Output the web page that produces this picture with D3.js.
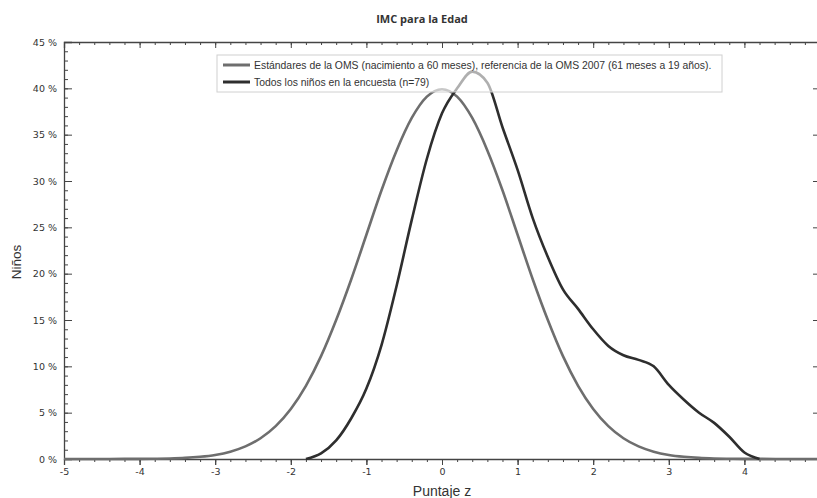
<!DOCTYPE html>
<html>
<head>
<meta charset="utf-8">
<script src="https://cdn.jsdelivr.net/npm/d3@7/dist/d3.min.js"></script>
<style>
  body { margin: 0; background: #fff; }
  text { font-family: "Liberation Sans", Arial, sans-serif; fill: #333; }
</style>
</head>
<body>
<script>
// z values and % of children
var omsZ = [-5, -4.6, -4.2, -4, -3.8, -3.6, -3.4, -3.2, -3, -2.8, -2.6, -2.4, -2.2, -2, -1.8, -1.6, -1.4, -1.2, -1, -0.8, -0.6, -0.4, -0.2,
            0, 0.2, 0.4, 0.6, 0.8, 1, 1.2, 1.4, 1.6, 1.8, 2, 2.2, 2.4, 2.6, 2.8, 3, 3.2, 3.4, 3.6, 3.8, 4, 4.2, 4.6, 5];
var omsPct = [0, 0, 0.01, 0.01, 0.03, 0.06, 0.12, 0.24, 0.44, 0.79, 1.36, 2.24, 3.55, 5.4, 7.9, 11.1, 15.0, 19.4, 24.2, 29.0, 33.3, 36.8, 39.1,
              39.9, 39.1, 36.8, 33.3, 29.0, 24.2, 19.4, 15.0, 11.1, 7.9, 5.4, 3.55, 2.24, 1.36, 0.79, 0.44, 0.24, 0.12, 0.06, 0.03, 0.01, 0.01, 0, 0];

var surveyZ = [-1.8, -1.6, -1.4, -1.2, -1, -0.8, -0.6, -0.4, -0.2, 0, 0.2, 0.4, 0.6, 0.8, 1, 1.2, 1.4, 1.6, 1.8,
               2, 2.2, 2.4, 2.6, 2.8, 3, 3.2, 3.4, 3.6, 3.8, 4, 4.2];
var surveyPct = [0, 0.6, 2.0, 4.4, 7.6, 12.3, 18.7, 25.8, 32.4, 37.3, 40.0, 41.8, 40.6, 35.8, 31.2, 26.0, 21.8, 18.3, 16.2,
                 14.0, 12.2, 11.2, 10.7, 10.0, 8.0, 6.4, 5.0, 3.9, 2.4, 0.7, 0];

var xTicks = [-5, -4, -3, -2, -1, 0, 1, 2, 3, 4, 5];
var xLabels = [-5, -4, -3, -2, -1, 0, 1, 2, 3, 4];
var yTicks = [0, 5, 10, 15, 20, 25, 30, 35, 40, 45];

var seriesNames = ["Estándares de la OMS (nacimiento a 60 meses), referencia de la OMS 2007 (61 meses a 19 años).",
                   "Todos los niños en la encuesta (n=79)"];
var seriesColors = ["#6e6e6e", "#2e2e2e"];

var width = 817, height = 498;
var margin = {top: 42, right: -3, bottom: 39, left: 64};

var svg = d3.select("body").append("svg")
    .attr("width", width)
    .attr("height", height);

var x = d3.scaleLinear().domain([-5, 5]).range([margin.left, width - margin.right]);
var y = d3.scaleLinear().domain([0, 45]).range([height - margin.bottom, margin.top]);

var minorX = d3.range(-50, 51, 2).map(function(d) { return d / 10; });
var minorY = d3.range(0, 46, 1);

// bottom axis
svg.append("g")
    .attr("transform", "translate(0," + y(0) + ")")
    .call(d3.axisBottom(x).tickValues(minorX).tickSize(3).tickFormat(""))
    .call(function(g) { g.select(".domain").remove(); });
svg.append("g")
    .attr("transform", "translate(0," + y(0) + ")")
    .call(d3.axisBottom(x).tickValues(xTicks).tickSize(6).tickFormat(""))
    .call(function(g) { g.select(".domain").attr("stroke", "#444").attr("stroke-width", 1.3); });
svg.append("g")
    .attr("class", "xaxis")
    .attr("transform", "translate(0," + y(0) + ")")
    .call(d3.axisBottom(x).tickValues(xLabels).tickSize(6).tickPadding(3).tickFormat(function(d) { return String(d); }))
    .call(function(g) { g.select(".domain").remove(); });

// top axis, ticks inside
svg.append("g")
    .attr("transform", "translate(0," + y(45) + ")")
    .call(d3.axisTop(x).tickValues(minorX).tickSize(-3).tickFormat(""))
    .call(function(g) { g.select(".domain").remove(); });
svg.append("g")
    .attr("transform", "translate(0," + y(45) + ")")
    .call(d3.axisTop(x).tickValues(xTicks).tickSize(-6).tickFormat(""))
    .call(function(g) { g.select(".domain").attr("stroke", "#444").attr("stroke-width", 1.3); });

// left axis, ticks inside
svg.append("g")
    .attr("transform", "translate(" + x(-5) + ",0)")
    .call(d3.axisLeft(y).tickValues(minorY).tickSize(-4).tickFormat(""))
    .call(function(g) { g.select(".domain").remove(); });
svg.append("g")
    .attr("class", "yaxis")
    .attr("transform", "translate(" + x(-5) + ",0)")
    .call(d3.axisLeft(y).tickValues(yTicks).tickSize(-8).tickPadding(7).tickFormat(function(d) { return d + " %"; }))
    .call(function(g) { g.select(".domain").attr("stroke", "#444").attr("stroke-width", 1.3); });

// right axis
svg.append("g")
    .attr("transform", "translate(" + x(5) + ",0)")
    .call(d3.axisRight(y).tickValues(yTicks).tickSize(-7).tickFormat(""))
    .call(function(g) { g.select(".domain").attr("stroke", "#444"); });

svg.selectAll(".tick line").attr("stroke", "#444");
svg.selectAll(".xaxis text, .yaxis text")
    .style("font-family", "'DejaVu Sans', Verdana, sans-serif")
    .style("font-size", "9.5px")
    .attr("fill", "#333");

// curves
var line = d3.line()
    .x(function(d) { return x(d[0]); })
    .y(function(d) { return y(d[1]); })
    .curve(d3.curveMonotoneX);

var omsData = omsZ.map(function(z, i) { return [z, omsPct[i]]; });
var surveyData = surveyZ.map(function(z, i) { return [z, surveyPct[i]]; });

svg.append("path")
    .datum(omsData)
    .attr("d", line)
    .attr("fill", "none")
    .attr("stroke", seriesColors[0])
    .attr("stroke-width", 2.6);

svg.append("path")
    .datum(surveyData)
    .attr("d", line)
    .attr("fill", "none")
    .attr("stroke", seriesColors[1])
    .attr("stroke-width", 2.6);

// legend, semi transparent over the curves
var legend = svg.append("g").attr("transform", "translate(217,55)");
legend.append("rect")
    .attr("width", 505)
    .attr("height", 37)
    .attr("fill", "#fff")
    .attr("fill-opacity", 0.62)
    .attr("stroke", "#d0d0d0");

seriesNames.forEach(function(name, i) {
  legend.append("line")
    .attr("x1", 6).attr("x2", 33)
    .attr("y1", 10 + i * 17).attr("y2", 10 + i * 17)
    .attr("stroke", seriesColors[i])
    .attr("stroke-width", 3);
  legend.append("text")
    .attr("x", 37)
    .attr("y", 10 + i * 17)
    .attr("dy", "0.35em")
    .style("font-size", "10.4px")
    .text(name);
});

// titles
svg.append("text")
    .attr("x", 422)
    .attr("y", 23)
    .attr("text-anchor", "middle")
    .style("font-family", "'Open Sans', sans-serif")
    .style("font-weight", "bold")
    .style("font-size", "11px")
    .attr("fill", "#111")
    .text("IMC para la Edad");

svg.append("text")
    .attr("x", x(0))
    .attr("y", 496)
    .attr("text-anchor", "middle")
    .style("font-size", "14px")
    .text("Puntaje z");

svg.append("text")
    .attr("transform", "translate(21,262) rotate(-90)")
    .attr("text-anchor", "middle")
    .style("font-size", "13.5px")
    .text("Niños");
</script>
</body>
</html>
